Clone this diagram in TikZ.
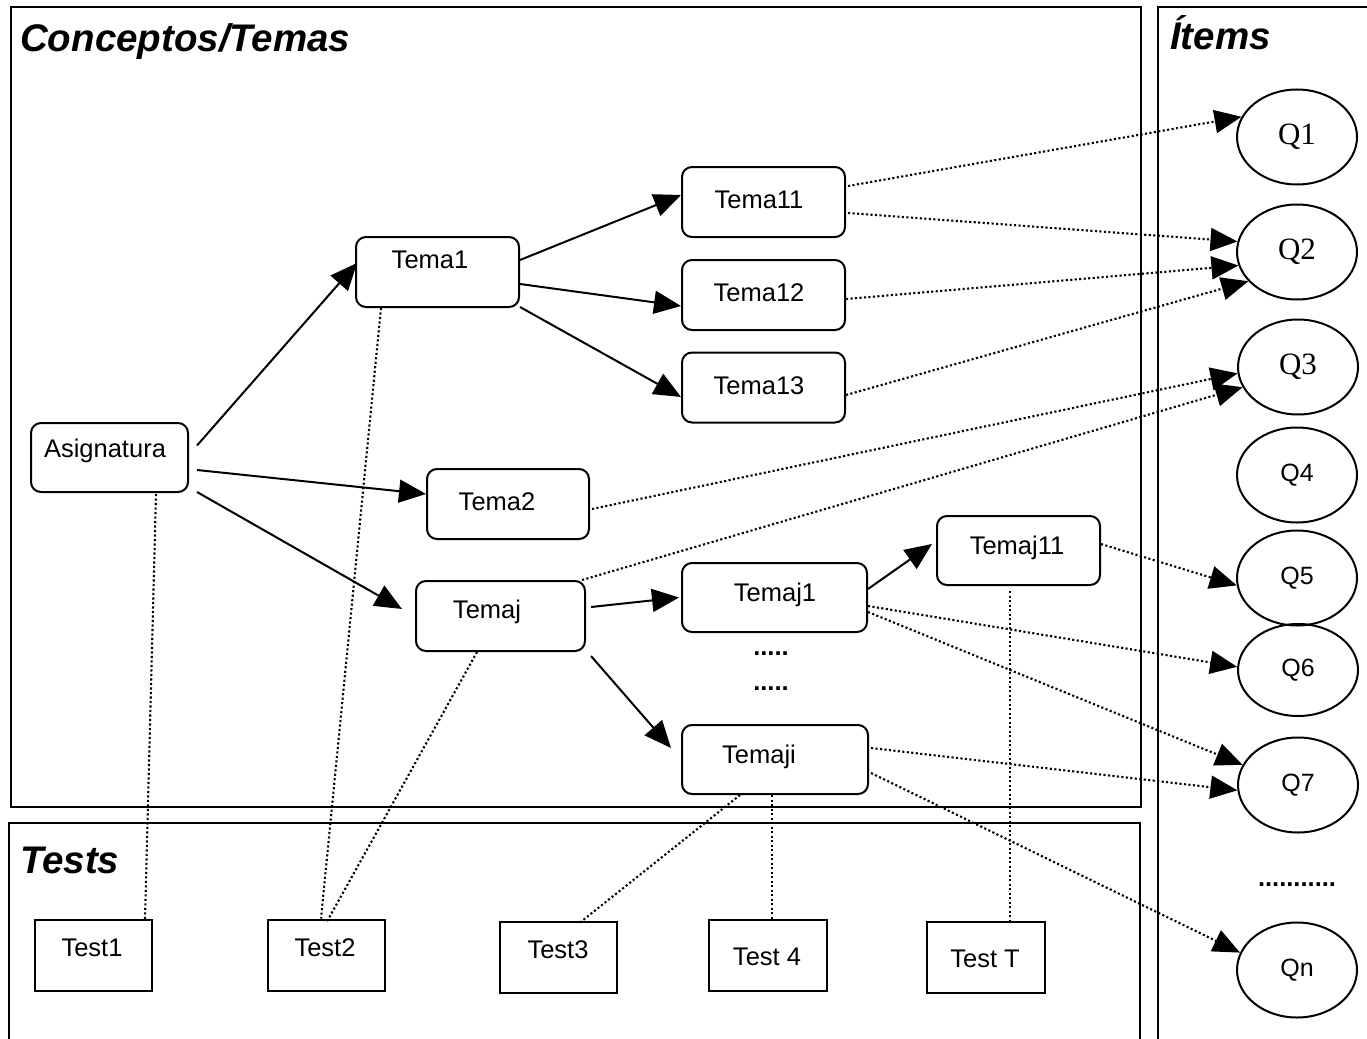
\documentclass[tikz,border=0pt]{standalone}
\usepackage{fontspec}
\setmainfont{Liberation Sans}
\newfontfamily\qserif{Liberation Serif}
\usetikzlibrary{arrows.meta,shapes.geometric,calc}

\begin{document}
\begin{tikzpicture}[x=1pt,y=-1pt,
  panel/.style={line width=2.2pt},
  title/.style={font=\fontsize{38.5}{42}\selectfont\bfseries\itshape, anchor=base west, inner sep=0pt},
  topic/.style={draw, line width=2pt, rounded corners=10pt, minimum width=163pt, minimum height=70pt, inner sep=0pt},
  testbox/.style={draw, line width=2pt, minimum width=117pt, minimum height=71pt, inner sep=0pt},
  txt/.style={font=\fontsize{25.5}{29}\selectfont, inner sep=0pt},
  item/.style={draw, ellipse, line width=2pt, minimum width=120pt, minimum height=95pt, inner sep=0pt, font=\fontsize{25}{29}\selectfont},
  itemserif/.style={item, font=\qserif\fontsize{31}{34}\selectfont},
  link/.style={line width=2pt, -{Triangle[length=27pt,width=23pt]}},
  ref/.style={line width=2.1pt, dash pattern=on 2.1pt off 2.4pt},
  refarrow/.style={ref, -{Triangle[length=27pt,width=23pt]}},
]
\useasboundingbox (0,0) rectangle (1367,1038);

% panels
\draw[panel] (11,7) rectangle (1141,807);
\draw[panel] (9,1045) -- (9,823) -- (1140,823) -- (1140,1045);
\draw[panel] (1158,1045) -- (1158,7) -- (1375,7);
\node[title] (t-conc) at (20,52) {Conceptos/Temas};
\node[title] (t-tests) at (20,873) {Tests};
\node[title] (t-items) at (1170,50) {Ítems};

% topics
\node[topic, minimum width=157pt, minimum height=69pt] (asig) at (109.5,457.5) {};
\node[txt] (asig-t) at (105,451) {Asignatura};
\node[topic] (tema1) at (437.5,272) {};
\node[txt] (tema1-t) at (430,260) {Tema1};
\node[topic] (tema11) at (763.5,202) {};
\node[txt] (tema11-t) at (759,200) {Tema11};
\node[topic] (tema12) at (763.5,295) {};
\node[txt] (tema12-t) at (759,293) {Tema12};
\node[topic] (tema13) at (763.5,387.5) {};
\node[txt] (tema13-t) at (759,386) {Tema13};
\node[topic, minimum width=162pt] (tema2) at (508,504) {};
\node[txt] (tema2-t) at (497,502) {Tema2};
\node[topic, minimum width=169pt] (temaj) at (500.5,616) {};
\node[txt] (temaj-t) at (487,612) {Temaj};
\node[topic, minimum width=185pt, minimum height=69pt] (temaj1) at (774.5,597.5) {};
\node[txt] (temaj1-t) at (775,595) {Temaj1};
\node[topic, minimum height=69pt] (temaj11) at (1018.5,550.5) {};
\node[txt] (temaj11-t) at (1017,548) {Temaj11};
\node[topic, minimum width=186pt, minimum height=69pt] (temaji) at (775,759.5) {};
\node[txt] (temaji-t) at (759,757) {Temaji};
\node[txt] (dots1) at (771,654) {\textbf{.....}};
\node[txt] (dots2) at (771,689) {\textbf{.....}};

% tests
\node[testbox] (test1) at (93.5,955.5) {};
\node[txt] (test1-t) at (92,948) {Test1};
\node[testbox] (test2) at (326.5,955) {};
\node[txt] (test2-t) at (325,948) {Test2};
\node[testbox] (test3) at (558.5,957) {};
\node[txt] (test3-t) at (558,950) {Test3};
\node[testbox, minimum width=118pt] (test4) at (768,955.5) {};
\node[txt] (test4-t) at (767,957) {Test 4};
\node[testbox, minimum width=118pt] (testT) at (986,957.5) {};
\node[txt] (testT-t) at (985,959) {Test T};

% items
\node[itemserif] (q1) at (1297,137) {Q1};
\node[itemserif] (q2) at (1297,252) {Q2};
\node[itemserif] (q3) at (1298,367) {Q3};
\node[item] (q4) at (1297,475) {Q4};
\node[item] (q5) at (1297,578) {Q5};
\node[item, minimum height=92pt] (q6) at (1298,670) {Q6};
\node[item] (q7) at (1298,785) {Q7};
\node[txt] (qdots) at (1297,885) {\textbf{...........}};
\node[item] (qn) at (1297,970) {Qn};

% topic hierarchy
\draw[link] ($(asig.east)+(8,-12)$) -- ($(tema1.west)+(2,-9)$);
\draw[link] ($(asig.east)+(8,12.5)$) -- ($(tema2.west)+(0,-10)$);
\draw[link] ($(asig.east)+(8,34.5)$) -- ($(temaj.west)+(-13,-7)$);
\draw[link] ($(tema1.east)+(0,-12)$) -- ($(tema11.west)+(0,-7)$);
\draw[link] ($(tema1.east)+(0,12)$) -- ($(tema12.west)+(0,11)$);
\draw[link] ($(tema1.east)+(0,35)$) -- ($(tema13.west)+(0,9.5)$);
\draw[link] ($(temaj.east)+(5,-9)$) -- ($(temaj1.west)+(-2,0)$);
\draw[link] ($(temaj.east)+(5,40)$) -- ($(temaji.west)+(-10,-11.5)$);
\draw[link] ($(temaj1.east)+(0,-8.5)$) -- ($(temaj11.west)+(-4,-6.5)$);

% topics to items
\draw[refarrow] ($(tema11.east)+(2,-16)$) -- (q1.160);
\draw[refarrow] ($(tema11.east)+(2,11)$) -- (q2.170);
\draw[refarrow] ($(tema12.east)+(0,4)$) -- (q2.193);
\draw[refarrow] ($(tema13.east)+(0,7.5)$) -- (q2.211);
\draw[refarrow] ($(tema2.east)+(2,5)$) -- (q3.186);
\draw[refarrow] ($(temaj.north east)+(-4,0)$) -- (q3.200);
\draw[refarrow] ($(temaj11.east)+(0,-6.5)$) -- (q5.187);
\draw[refarrow] ($(temaj1.east)+(0,8.5)$) -- (q6.177);
\draw[refarrow] ($(temaj1.east)+(0,14.5)$) -- (q7.160);
\draw[refarrow] ($(temaji.east)+(2,-11.5)$) -- (q7.185);
\draw[refarrow] ($(temaji.east)+(2,13.5)$) -- (qn.163);

% topics to tests
\draw[ref] ($(asig.south)+(46.5,1)$) -- ($(test1.north)+(51.5,0)$);
\draw[ref] ($(tema1.south)+(-56.5,0)$) -- ($(test2.north)+(-5.5,0)$);
\draw[ref] ($(temaj.south)+(-23.5,0)$) -- ($(test2.north)+(0.5,3)$);
\draw[ref] ($(temaji.south)+(-35,0)$) -- ($(test3.north)+(21.5,2)$);
\draw[ref] ($(temaji.south)+(-3,0)$) -- ($(test4.north)+(4,0)$);
\draw[ref] ($(temaj11.south)+(-8.5,5)$) -- ($(testT.north)+(24,0)$);
\end{tikzpicture}
\end{document}
